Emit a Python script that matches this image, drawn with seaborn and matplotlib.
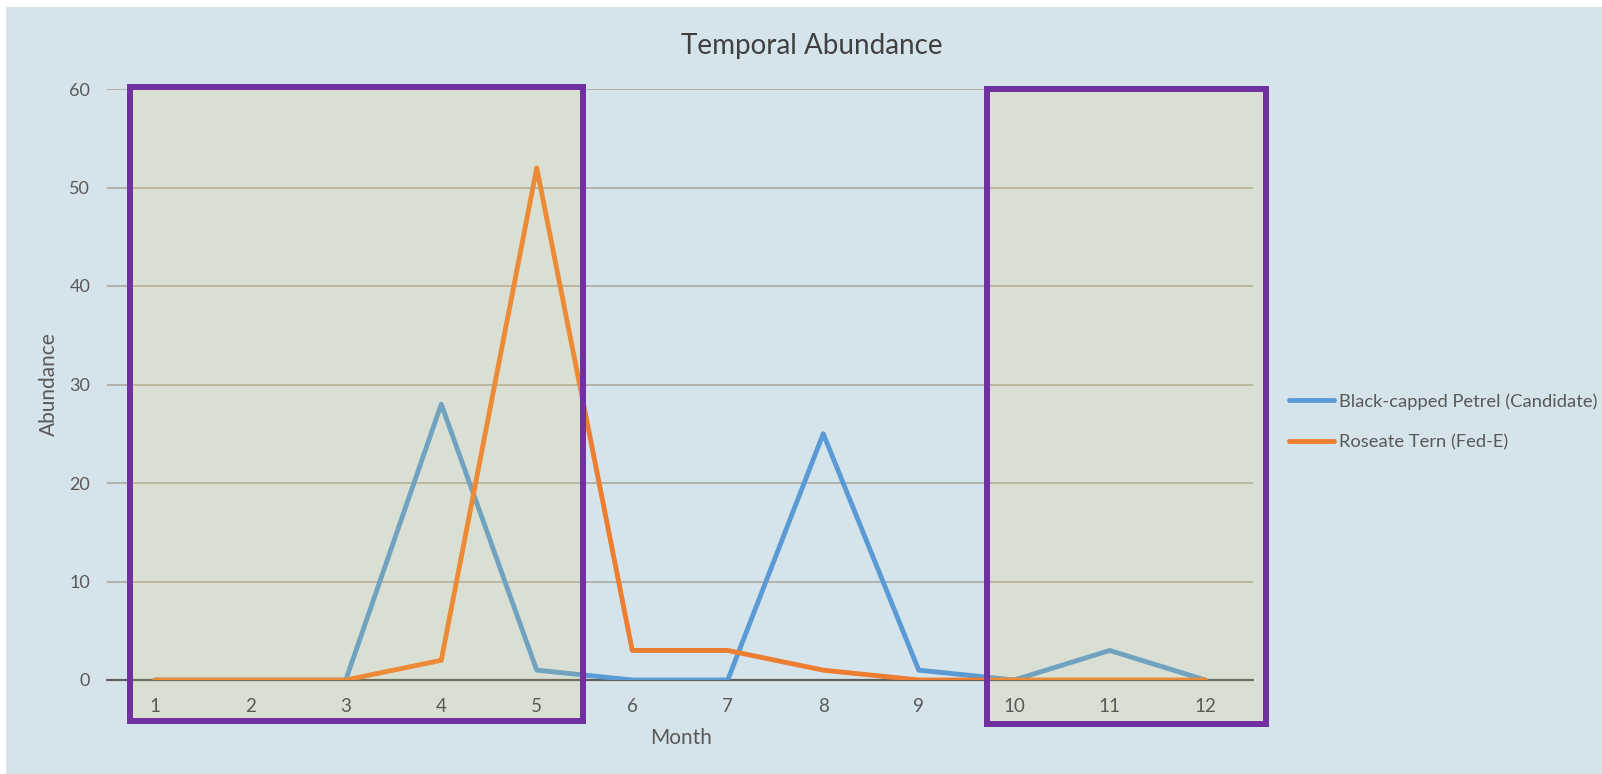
import numpy as np
import pandas as pd
import matplotlib
matplotlib.use("Agg")
import matplotlib.pyplot as plt
import matplotlib.patches as mpatches
import seaborn as sns

months = [1, 2, 3, 4, 5, 6, 7, 8, 9, 10, 11, 12]
petrel = [0, 0, 0, 28, 1, 0, 0, 25, 1, 0, 3, 0]
tern = [0, 0, 0, 2, 52, 3, 3, 1, 0, 0, 0, 0]
series_names = ["Black-capped Petrel (Candidate)", "Roseate Tern (Fed-E)"]
yticks = [0, 10, 20, 30, 40, 50, 60]
highlight_spans = [(0.74, 5.48, -4.2, 60.2), (9.71, 12.64, -4.45, 60.05)]

df = pd.DataFrame({
    "Month": months * 2,
    "Abundance": petrel + tern,
    "Species": [series_names[0]] * 12 + [series_names[1]] * 12,
})

sns.set_theme(style="white")
plt.rcParams["font.family"] = ["Lato", "DejaVu Sans"]

BG = "#d5e3ea"
TXT = "#595959"

fig = plt.figure(figsize=(16.02, 7.74), dpi=100, facecolor="white")
fig.patches.append(mpatches.Rectangle((6 / 1602, 0), 1, 1 - 7 / 774, transform=fig.transFigure,
                                      facecolor=BG, edgecolor="none", zorder=-10))

ax = fig.add_axes([107 / 1602, 1 - 680 / 774, (1253 - 107) / 1602, (680 - 89) / 774])
ax.set_facecolor("none")

sns.lineplot(data=df, x="Month", y="Abundance", hue="Species",
             palette=["#5b9bd5", "#ed7d31"], linewidth=3.5, ax=ax, legend=True, zorder=3)

ax.set_xlim(0.5, 12.5)
ax.set_ylim(0, 60)
ax.set_yticks(yticks)
ax.set_xticks(months)
ax.set_xticklabels([str(m) for m in months])
for s in ax.spines.values():
    s.set_visible(False)
for y in yticks[1:]:
    ax.axhline(y, color="#aeaea6", linewidth=1.3, zorder=1)
ax.axhline(0, color="#5e5e5e", linewidth=1.6, zorder=2, clip_on=False)

ax.tick_params(axis="y", length=0, pad=12, labelsize=13, labelcolor=TXT)
ax.tick_params(axis="x", length=0, pad=13, labelsize=13.5, labelcolor=TXT)
ax.xaxis.set_zorder(7)
ax.yaxis.set_zorder(7)
ax.set_xlabel("")
ax.set_ylabel("")

for (x0, x1, y0, y1) in highlight_spans:
    ax.add_patch(mpatches.Rectangle((x0, y0), x1 - x0, y1 - y0, facecolor="#f0d551",
                                    alpha=0.15, edgecolor="none", zorder=4, clip_on=False))
    ax.add_patch(mpatches.Rectangle((x0, y0), x1 - x0, y1 - y0, facecolor="none",
                                    edgecolor="#7030a0", linewidth=4.3, zorder=5, clip_on=False))

fig.text(812 / 1602, 1 - 46 / 774, "Temporal Abundance", ha="center", va="center",
         fontsize=20, color="#404040")
fig.text(681 / 1602, 1 - 738 / 774, "Month", ha="center", va="center", fontsize=15, color=TXT)
fig.text(49 / 1602, 1 - 384 / 774, "Abundance", ha="center", va="center", rotation=90,
         fontsize=15, color=TXT)

leg = ax.legend(loc="center left", bbox_to_anchor=(1282 / 1602, 1 - 422 / 774),
                bbox_transform=fig.transFigure, frameon=False, fontsize=13.2,
                handlelength=2.45, handletextpad=0.25, labelspacing=1.37, borderaxespad=0)
for t in leg.get_texts():
    t.set_color(TXT)
for l in leg.get_lines():
    l.set_linewidth(3.5)

fig.savefig("out.png", dpi=100, facecolor=fig.get_facecolor())
